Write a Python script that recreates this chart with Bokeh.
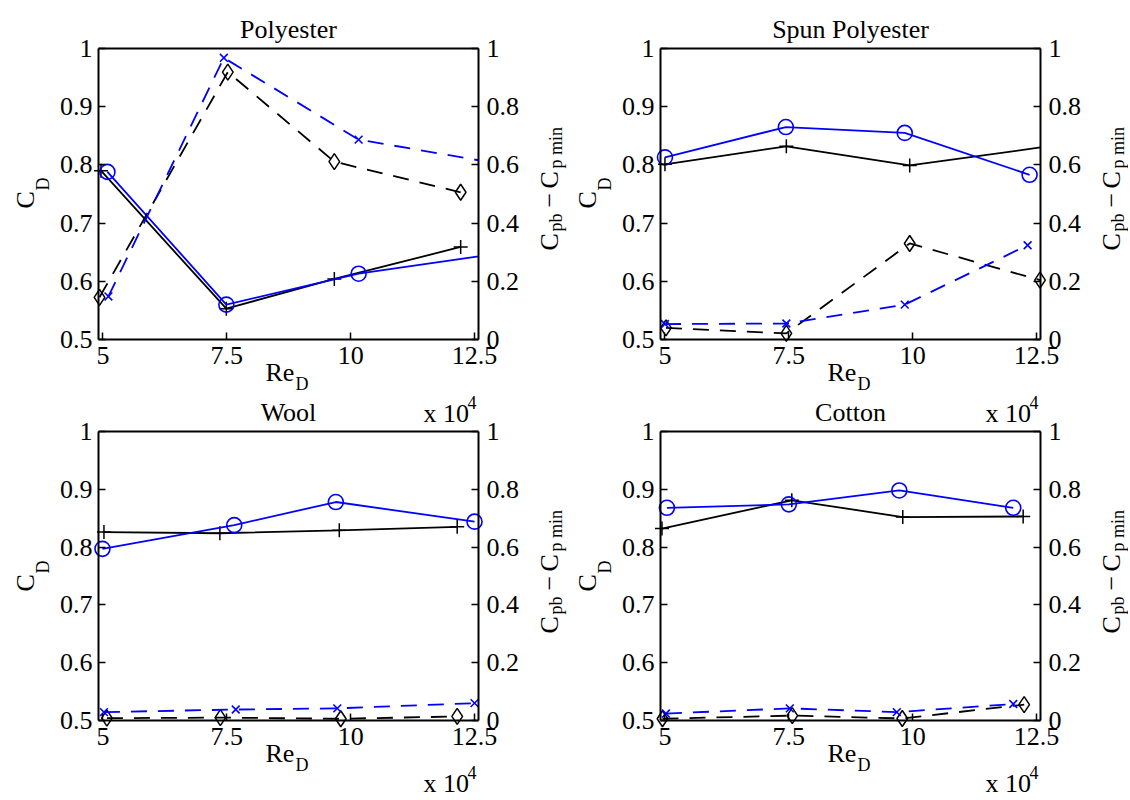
import math
from bokeh.plotting import figure
from bokeh.models import Range1d, LinearAxis, FixedTicker, CustomJSTickFormatter, Label
from bokeh.embed import file_html
from bokeh.resources import INLINE

# ---------------- data (Re_D in units of 10^4) ----------------
titles = ["Polyester", "Spun Polyester", "Wool", "Cotton"]
x_ticks = [5, 7.5, 10, 12.5]
cd_ticks = [0.5, 0.6, 0.7, 0.8, 0.9, 1.0]
dp_ticks = [0.0, 0.2, 0.4, 0.6, 0.8, 1.0]

# Polyester (last point of some series: where the line leaves the axes box)
poly_cd_black_x = [4.96, 7.49, 9.67, 12.22]
poly_cd_black_y = [0.790, 0.553, 0.604, 0.659]
poly_cd_blue_x = [5.09, 7.49, 10.16, 12.58]
poly_cd_blue_y = [0.788, 0.560, 0.613, 0.643]
poly_dp_black_x = [4.93, 7.52, 9.67, 12.22]
poly_dp_black_y = [0.145, 0.919, 0.611, 0.506]
poly_dp_blue_x = [5.11, 7.44, 10.16, 12.58]
poly_dp_blue_y = [0.148, 0.968, 0.687, 0.616]

# Spun Polyester
spun_cd_black_x = [5.00, 7.45, 9.94, 12.58]
spun_cd_black_y = [0.801, 0.832, 0.799, 0.830]
spun_cd_blue_x = [5.00, 7.44, 9.84, 12.36]
spun_cd_blue_y = [0.813, 0.865, 0.855, 0.783]
spun_dp_black_x = [5.02, 7.45, 9.94, 12.57]
spun_dp_black_y = [0.040, 0.021, 0.330, 0.204]
spun_dp_blue_x = [5.00, 7.45, 9.84, 12.32]
spun_dp_blue_y = [0.053, 0.055, 0.120, 0.324]

# Wool
wool_cd_black_x = [5.02, 7.36, 9.77, 12.15]
wool_cd_black_y = [0.826, 0.824, 0.829, 0.835]
wool_cd_blue_x = [4.99, 7.65, 9.70, 12.50]
wool_cd_blue_y = [0.797, 0.838, 0.878, 0.844]
wool_dp_black_x = [5.08, 7.37, 9.80, 12.15]
wool_dp_black_y = [0.008, 0.010, 0.006, 0.014]
wool_dp_blue_x = [5.02, 7.68, 9.73, 12.50]
wool_dp_blue_y = [0.029, 0.038, 0.042, 0.060]

# Cotton
cot_cd_black_x = [4.94, 7.56, 9.80, 12.23]
cot_cd_black_y = [0.832, 0.881, 0.852, 0.853]
cot_cd_blue_x = [5.04, 7.50, 9.73, 12.03]
cot_cd_blue_y = [0.868, 0.874, 0.898, 0.868]
cot_dp_black_x = [4.95, 7.57, 9.79, 12.25]
cot_dp_black_y = [0.006, 0.017, 0.007, 0.055]
cot_dp_blue_x = [5.02, 7.52, 9.68, 12.03]
cot_dp_blue_y = [0.024, 0.042, 0.029, 0.057]

series = [
    (poly_cd_black_x, poly_cd_black_y, poly_cd_blue_x, poly_cd_blue_y,
     poly_dp_black_x, poly_dp_black_y, poly_dp_blue_x, poly_dp_blue_y),
    (spun_cd_black_x, spun_cd_black_y, spun_cd_blue_x, spun_cd_blue_y,
     spun_dp_black_x, spun_dp_black_y, spun_dp_blue_x, spun_dp_blue_y),
    (wool_cd_black_x, wool_cd_black_y, wool_cd_blue_x, wool_cd_blue_y,
     wool_dp_black_x, wool_dp_black_y, wool_dp_blue_x, wool_dp_blue_y),
    (cot_cd_black_x, cot_cd_black_y, cot_cd_blue_x, cot_cd_blue_y,
     cot_dp_black_x, cot_dp_black_y, cot_dp_blue_x, cot_dp_blue_y),
]

# ---------------- style / layout ----------------
FONT = "Liberation Serif"
BLUE = "#0000ff"
XB = (4.91, 12.58)      # visible x limits of each axes box
CB = (0.5, 1.0)         # left axis limits
DB = (0.0, 1.0)         # right axis limits
W, H = 1128, 798
FW = 380
TICK_PX = "26px"
BIG_PX = "26px"
SUB_PX = "18px"
DASH = "16 11"
LW = 1.8

# axes boxes in page pixels: (box_left, box_top, box_height)
boxes = [(98, 48, 291), (660, 48, 291), (98, 431, 289), (660, 431, 289)]

fmt_code = "return String(Math.round(tick*1000)/1000);"

# One canvas; default ranges are page pixels (y downwards), used for the texts.
p = figure(frame_width=W, frame_height=H, x_range=Range1d(0, W), y_range=Range1d(H, 0),
           x_axis_location=None, y_axis_location=None, title=None,
           output_backend="svg", toolbar_location=None, min_border=0,
           min_border_left=0, min_border_right=0, min_border_top=0, min_border_bottom=0)
p.xgrid.visible = False
p.ygrid.visible = False
p.outline_line_color = None
p.background_fill_color = "white"
p.border_fill_color = "white"


def span_range(lo_px, hi_px, v_lo, v_hi, total):
    """Range over the whole canvas such that v_lo sits at lo_px and v_hi at hi_px."""
    k = (v_hi - v_lo) / (hi_px - lo_px)
    return Range1d(v_lo - lo_px * k, v_lo + (total - lo_px) * k)


def style_axis(ax, standoff):
    ax.axis_line_color = "black"
    ax.axis_line_width = 2
    ax.major_tick_line_color = "black"
    ax.major_tick_line_width = 1.5
    ax.major_tick_in = 7
    ax.major_tick_out = 0
    ax.minor_tick_line_color = None
    ax.major_label_text_font = FONT
    ax.major_label_text_font_size = TICK_PX
    ax.major_label_text_color = "black"
    ax.major_label_standoff = standoff
    ax.formatter = CustomJSTickFormatter(code=fmt_code)


def add_text(px, py, text, size, angle=0.0, align="left"):
    p.add_layout(Label(x=px, y=py, text=text, text_font=FONT, text_font_size=size,
                       text_color="black", angle=angle, angle_units="rad",
                       text_align=align, text_baseline="alphabetic"))


def inside(xs, ys):
    pts = [(a, b) for a, b in zip(xs, ys) if a < XB[1]]
    return [a for a, _ in pts], [b for _, b in pts]


x_ranges = {}
y_ranges = {}
for i, (fl, ft, fh) in enumerate(boxes):
    xn, cn, dn = f"x{i}", f"c{i}", f"d{i}"
    x_ranges[xn] = span_range(fl, fl + FW, XB[0], XB[1], W)
    # y pixel measured from canvas bottom
    y_ranges[cn] = span_range(H - ft - fh, H - ft, CB[0], CB[1], H)
    y_ranges[dn] = span_range(H - ft - fh, H - ft, DB[0], DB[1], H)
p.extra_x_ranges = x_ranges
p.extra_y_ranges = y_ranges

for i, (fl, ft, fh) in enumerate(boxes):
    xn, cn, dn = f"x{i}", f"c{i}", f"d{i}"

    xa = LinearAxis(x_range_name=xn, y_range_name=cn, ticker=FixedTicker(ticks=x_ticks),
                    fixed_location=CB[0], bounds=XB)
    style_axis(xa, 7)
    p.add_layout(xa, "below")
    ya = LinearAxis(x_range_name=xn, y_range_name=cn, ticker=FixedTicker(ticks=cd_ticks),
                    fixed_location=XB[0], bounds=CB)
    style_axis(ya, 6)
    p.add_layout(ya, "left")
    ra = LinearAxis(x_range_name=xn, y_range_name=dn, ticker=FixedTicker(ticks=dp_ticks),
                    fixed_location=XB[1], bounds=DB)
    style_axis(ra, 8)
    p.add_layout(ra, "right")
    ta = LinearAxis(x_range_name=xn, y_range_name=cn, ticker=FixedTicker(ticks=[]),
                    fixed_location=CB[1], bounds=XB)
    style_axis(ta, 0)
    ta.major_label_text_font_size = "0px"
    p.add_layout(ta, "above")

    (cbx, cby, cux, cuy, dbx, dby, dux, duy) = series[i]
    rc = dict(x_range_name=xn, y_range_name=cn)
    rd = dict(x_range_name=xn, y_range_name=dn)
    p.line(cbx, cby, line_color="black", line_width=LW, **rc)
    mx, my = inside(cbx, cby)
    p.scatter(mx, my, marker="cross", size=14, line_color="black", line_width=1.5, **rc)
    p.line(cux, cuy, line_color=BLUE, line_width=LW, **rc)
    mx, my = inside(cux, cuy)
    p.scatter(mx, my, marker="circle", size=15, line_color=BLUE, fill_color=None,
              line_width=1.6, **rc)
    p.line(dbx, dby, line_color="black", line_width=LW, line_dash=DASH, **rd)
    mx, my = inside(dbx, dby)
    p.scatter(mx, my, marker="diamond", size=16, line_color="black", fill_color=None,
              line_width=1.5, **rd)
    p.line(dux, duy, line_color=BLUE, line_width=LW, line_dash=DASH, **rd)
    mx, my = inside(dux, duy)
    p.scatter(mx, my, marker="x", size=11, line_color=BLUE, line_width=1.6, **rd)

    fr = fl + FW
    fb = ft + fh
    # title
    add_text(fl + FW / 2, ft - 19, titles[i], BIG_PX, align="center")
    # Re_D
    add_text(fl + 167, fb + 33, "Re", BIG_PX)
    add_text(fl + 197, fb + 44, "D", SUB_PX)
    # x 10^4
    xb = fb + 74 if i < 2 else fb + 63
    add_text(fl + 325, xb, "x 10", BIG_PX)
    add_text(fl + 369, xb - 11, "4", SUB_PX)
    # C_D (rotated)
    add_text(fl - 73, ft + 160, "C", BIG_PX, angle=math.pi / 2)
    add_text(fl - 56, ft + 142, "D", SUB_PX, angle=math.pi / 2)
    # C_pb - C_p min (rotated)
    add_text(fr + 71, ft + 202, "C", BIG_PX, angle=math.pi / 2)
    add_text(fr + 77, ft + 183, "pb", SUB_PX, angle=math.pi / 2)
    add_text(fr + 71, ft + 159, "\u2212", BIG_PX, angle=math.pi / 2)
    add_text(fr + 71, ft + 140, "C", BIG_PX, angle=math.pi / 2)
    add_text(fr + 77, ft + 120, "p min", SUB_PX, angle=math.pi / 2)

with open("out.html", "w") as f:
    f.write(file_html(p, INLINE))
